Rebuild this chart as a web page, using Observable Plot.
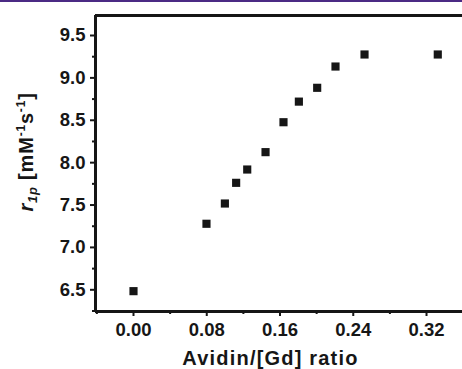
<!DOCTYPE html>
<html><head><meta charset="utf-8">
<script src="https://cdn.jsdelivr.net/npm/d3@7"></script>
<script src="https://cdn.jsdelivr.net/npm/@observablehq/plot@0.6"></script>
<style>
body{margin:0;background:#fff;}
#wrap{position:relative;width:462px;height:369px;overflow:hidden;}
#bar{position:absolute;left:0;top:0;width:462px;height:2px;background:#4b2a84;z-index:2;}
</style></head><body><div id="wrap"><div id="bar"></div></div>
<script>
const ratio = [0, 0.0797, 0.0998, 0.1121, 0.1242, 0.1442, 0.1638, 0.1806, 0.2006, 0.2206, 0.2523, 0.3323];
const r1p = [6.484, 7.279, 7.518, 7.762, 7.919, 8.124, 8.477, 8.72, 8.883, 9.134, 9.276, 9.276];
const xTicks = [0, 0.08, 0.16, 0.24, 0.32];
const xMinor = [-0.04, 0.04, 0.12, 0.20, 0.28];
const yTicks = [6.5, 7.0, 7.5, 8.0, 8.5, 9.0, 9.5];
const yMinor = [6.25, 6.75, 7.25, 7.75, 8.25, 8.75, 9.25];
const xLabel = "Avidin/[Gd] ratio";

const xDom = [-0.0415, 0.3593];
const yDom = [6.244, 9.736];
const data = ratio.map((x, i) => ({x, y: r1p[i]}));
const ink = "#161616";

const chart = Plot.plot({
  width: 462, height: 369,
  marginLeft: 95, marginRight: 0, marginTop: 15, marginBottom: 58,
  style: {fontFamily: "'Liberation Sans', Arial, sans-serif", fontWeight: "bold", fontSize: "18.5px", color: ink, background: "#fff", overflow: "visible"},
  x: {domain: xDom},
  y: {domain: yDom},
  marks: [
    Plot.axisX({ticks: xTicks, tickSize: 5, tickPadding: 6, tickFormat: d3.format(".2f"), strokeWidth: 2, label: null, fontSize: 18.5, fontWeight: "bold"}),
    Plot.axisX({ticks: xMinor, tickSize: 3, tickFormat: () => "", strokeWidth: 2, label: null}),
    Plot.axisY({ticks: yTicks, tickSize: 5, tickPadding: 5, tickFormat: d3.format(".1f"), strokeWidth: 2, label: null, fontSize: 18.5, fontWeight: "bold"}),
    Plot.axisY({ticks: yMinor, tickSize: 3, tickFormat: () => "", strokeWidth: 2, label: null}),
    Plot.ruleX([xDom[0]], {strokeWidth: 3, stroke: ink}),
    Plot.ruleY([yDom[0]], {strokeWidth: 3, stroke: ink}),
    Plot.ruleY([yDom[1]], {strokeWidth: 3, stroke: ink}),
    Plot.dot(data, {x: "x", y: "y", symbol: "square", r: 4.6, fill: ink, stroke: null})
  ]
});

const svg = d3.select(chart);
svg.append("text")
  .attr("x", 270.5).attr("y", 365)
  .attr("text-anchor", "middle")
  .attr("fill", ink)
  .style("font-size", "20px").style("font-weight", "bold").style("letter-spacing", "1.2px")
  .text(xLabel);

const yl = svg.append("text")
  .attr("transform", "translate(33,152) rotate(-90)")
  .attr("text-anchor", "middle")
  .attr("fill", ink)
  .style("font-size", "20px").style("font-weight", "bold").style("letter-spacing", "0.8px");
yl.append("tspan").attr("font-style", "italic").text("r");
yl.append("tspan").attr("font-style", "italic").attr("font-size", "13px").attr("dy", "4").text("1p");
yl.append("tspan").attr("dy", "-4").text(" [mM");
yl.append("tspan").attr("font-size", "12px").attr("dy", "-8").text("-1");
yl.append("tspan").attr("dy", "8").text("s");
yl.append("tspan").attr("font-size", "12px").attr("dy", "-8").text("-1");
yl.append("tspan").attr("dy", "8").text("]");

document.getElementById("wrap").appendChild(chart);
</script>
</body></html>
